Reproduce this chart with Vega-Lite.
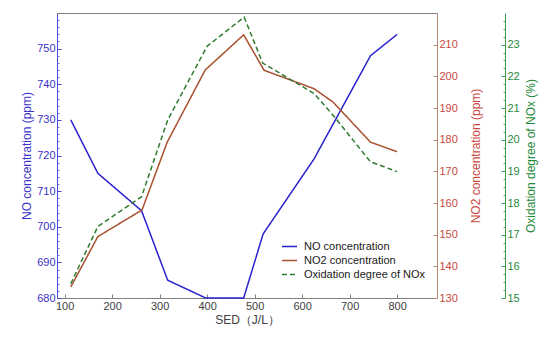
{
  "$schema": "https://vega.github.io/schema/vega-lite/v6.json",
  "width": 380,
  "height": 285,
  "autosize": {"type": "none"},
  "padding": {"left": 57, "top": 13, "right": 113, "bottom": 41},
  "background": "white",
  "config": {
    "font": "Liberation Sans",
    "view": {"stroke": "#808080", "strokeWidth": 1},
    "axis": {"grid": false, "labelFontSize": 11, "titleFontSize": 12, "titleFontWeight": "normal", "labelFont": "Liberation Sans", "titleFont": "Liberation Sans"}
  },
  "data": {
    "values": [
      {"series": "NO concentration", "sed": 113, "v": 730},
      {"series": "NO concentration", "sed": 170, "v": 715},
      {"series": "NO concentration", "sed": 262, "v": 704.5},
      {"series": "NO concentration", "sed": 317, "v": 685},
      {"series": "NO concentration", "sed": 397, "v": 680},
      {"series": "NO concentration", "sed": 477, "v": 680},
      {"series": "NO concentration", "sed": 518, "v": 698},
      {"series": "NO concentration", "sed": 625, "v": 719},
      {"series": "NO concentration", "sed": 744, "v": 748},
      {"series": "NO concentration", "sed": 800, "v": 754},
      {"series": "NO2 concentration", "sed": 113, "v": 133.5},
      {"series": "NO2 concentration", "sed": 170, "v": 149.4},
      {"series": "NO2 concentration", "sed": 263, "v": 157.8},
      {"series": "NO2 concentration", "sed": 316, "v": 179.2},
      {"series": "NO2 concentration", "sed": 396, "v": 202},
      {"series": "NO2 concentration", "sed": 477, "v": 213.1},
      {"series": "NO2 concentration", "sed": 520, "v": 201.9},
      {"series": "NO2 concentration", "sed": 625, "v": 196.1},
      {"series": "NO2 concentration", "sed": 665, "v": 191.9},
      {"series": "NO2 concentration", "sed": 744, "v": 179.2},
      {"series": "NO2 concentration", "sed": 800, "v": 176.2},
      {"series": "Oxidation degree of NOx", "sed": 113, "v": 15.45},
      {"series": "Oxidation degree of NOx", "sed": 170, "v": 17.26},
      {"series": "Oxidation degree of NOx", "sed": 262, "v": 18.2},
      {"series": "Oxidation degree of NOx", "sed": 317, "v": 20.62},
      {"series": "Oxidation degree of NOx", "sed": 400, "v": 22.95},
      {"series": "Oxidation degree of NOx", "sed": 478, "v": 23.87},
      {"series": "Oxidation degree of NOx", "sed": 517, "v": 22.42},
      {"series": "Oxidation degree of NOx", "sed": 625, "v": 21.46},
      {"series": "Oxidation degree of NOx", "sed": 667, "v": 20.74},
      {"series": "Oxidation degree of NOx", "sed": 744, "v": 19.3},
      {"series": "Oxidation degree of NOx", "sed": 800, "v": 18.99}
    ]
  },
  "encoding": {
    "x": {
      "field": "sed", "type": "quantitative",
      "scale": {"domain": [84, 884], "nice": false, "zero": false},
      "axis": {
        "title": "SED（J/L）", "values": [100, 200, 300, 400, 500, 600, 700, 800],
        "domainColor": "#808080", "tickColor": "#808080", "tickSize": -4, "labelPadding": 6,
        "labelColor": "#404040", "titleColor": "#404040", "titlePadding": 3, "labelFontSize": 11
      }
    },
    "color": {
      "field": "series", "type": "nominal",
      "scale": {"domain": ["NO concentration", "NO2 concentration", "Oxidation degree of NOx"], "range": ["#2a22cc", "#a9502e", "#2f7a2f"]},
      "legend": {
        "title": null, "orient": "none", "legendX": 224, "legendY": 225,
        "symbolType": "stroke", "symbolSize": 225, "symbolStrokeWidth": 1.5,
        "labelFontSize": 11, "labelColor": "#202020", "rowPadding": 0, "labelOffset": 6
      }
    },
    "strokeDash": {
      "field": "series", "type": "nominal",
      "scale": {"domain": ["NO concentration", "NO2 concentration", "Oxidation degree of NOx"], "range": [[1, 0], [1, 0], [5, 3]]},
      "legend": null
    }
  },
  "layer": [
    {
      "transform": [{"filter": "datum.series === 'NO concentration'"}],
      "mark": {"type": "line", "strokeWidth": 1.5},
      "encoding": {
        "y": {
          "field": "v", "type": "quantitative",
          "scale": {"domain": [680, 760], "nice": false, "zero": false},
          "axis": {
            "title": "NO concentration (ppm)", "orient": "left",
            "values": [680, 690, 700, 710, 720, 730, 740, 750],
            "domainColor": "#4a4ad6", "tickColor": "#4a4ad6", "tickSize": -4, "labelPadding": 6,
            "labelColor": "#3a32c8", "titleColor": "#3a32c8", "titlePadding": 3
          }
        }
      }
    },
    {
      "transform": [{"filter": "datum.series === 'NO concentration'"}],
      "mark": {"type": "line", "opacity": 0},
      "encoding": {
        "color": {"value": "#2a22cc"},
        "strokeDash": {"value": [1, 0]},
        "y": {
          "field": "v", "type": "quantitative",
          "scale": {"domain": [680, 760], "nice": false, "zero": false},
          "axis": {
            "title": null, "orient": "left", "labels": false, "domain": false,
            "values": [682, 684, 686, 688, 692, 694, 696, 698, 702, 704, 706, 708, 712, 714, 716, 718, 722, 724, 726, 728, 732, 734, 736, 738, 742, 744, 746, 748, 752, 754, 756, 758],
            "tickColor": "#6a6ae0", "tickSize": -2
          }
        }
      }
    },
    {
      "transform": [{"filter": "datum.series === 'NO2 concentration'"}],
      "mark": {"type": "line", "strokeWidth": 1.5},
      "encoding": {
        "y": {
          "field": "v", "type": "quantitative",
          "scale": {"domain": [130, 220], "nice": false, "zero": false},
          "axis": {
            "title": "NO2 concentration (ppm)", "orient": "right",
            "values": [130, 140, 150, 160, 170, 180, 190, 200, 210],
            "domainColor": "#b88a74", "tickColor": "#b88a74", "tickSize": -4, "labelPadding": 6,
            "labelColor": "#c8483e", "titleColor": "#c8483e", "titlePadding": 25, "titleAngle": 270
          }
        }
      }
    },
    {
      "transform": [{"filter": "datum.series === 'Oxidation degree of NOx'"}],
      "mark": {"type": "line", "strokeWidth": 1.5},
      "encoding": {
        "y": {
          "field": "v", "type": "quantitative",
          "scale": {"domain": [15, 24], "nice": false, "zero": false},
          "axis": {
            "title": "Oxidation degree of NOx (%)", "orient": "right", "offset": 68,
            "values": [15, 16, 17, 18, 19, 20, 21, 22, 23],
            "domainColor": "#3a9a4a", "tickColor": "#3a9a4a", "tickSize": -4, "labelPadding": 6,
            "labelColor": "#1f8a3a", "titleColor": "#1f8a3a", "titlePadding": 18, "titleAngle": 270
          }
        }
      }
    },
    {
      "transform": [{"filter": "datum.series === 'Oxidation degree of NOx'"}],
      "mark": {"type": "line", "opacity": 0},
      "encoding": {
        "color": {"value": "#2f7a2f"},
        "strokeDash": {"value": [1, 0]},
        "y": {
          "field": "v", "type": "quantitative",
          "scale": {"domain": [15, 24], "nice": false, "zero": false},
          "axis": {
            "title": null, "orient": "right", "offset": 68, "labels": false, "domain": false,
            "values": [15.25, 15.5, 15.75, 16.25, 16.5, 16.75, 17.25, 17.5, 17.75, 18.25, 18.5, 18.75, 19.25, 19.5, 19.75, 20.25, 20.5, 20.75, 21.25, 21.5, 21.75, 22.25, 22.5, 22.75, 23.25, 23.5, 23.75],
            "tickColor": "#5aaa6a", "tickSize": -2
          }
        }
      }
    }
  ],
  "resolve": {"scale": {"y": "independent"}}
}
